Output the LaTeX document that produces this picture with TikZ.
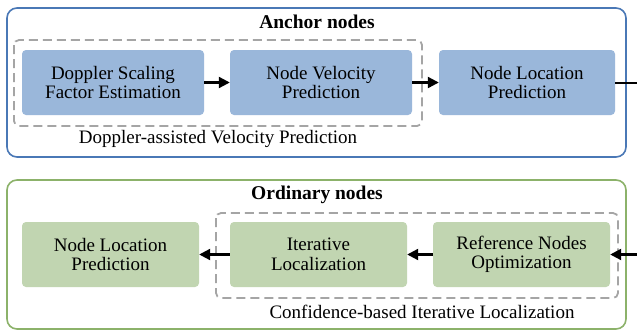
\documentclass[tikz,border=0pt]{standalone}
\usepackage{fontspec}
\setmainfont{Liberation Serif}
\usetikzlibrary{arrows.meta}
\definecolor{bluefill}{RGB}{154,183,218}
\definecolor{blueline}{RGB}{74,120,182}
\definecolor{greenfill}{RGB}{193,213,177}
\definecolor{greenline}{RGB}{140,178,106}
\definecolor{dashgray}{RGB}{165,165,165}
\tikzset{
  outerbox/.style={draw, line width=1.6pt, rounded corners=10pt, fill=white},
  groupbox/.style={draw=dashgray, line width=1.8pt, dash pattern=on 9pt off 5pt, rounded corners=5pt},
  procbox/.style={rounded corners=4pt, minimum width=177pt, minimum height=65pt, align=center, inner sep=0pt,
    font=\fontsize{19}{19.5}\selectfont},
  bluebox/.style={procbox, fill=bluefill},
  greenbox/.style={procbox, fill=greenfill},
  titletext/.style={font=\fontsize{19.5}{21}\selectfont\bfseries},
  labeltext/.style={font=\fontsize{19}{21}\selectfont},
  flow/.style={line width=2.2pt, -{Triangle[length=11pt,width=11pt]}},
}
\begin{document}
\begin{tikzpicture}[x=1pt,y=-1pt]
\useasboundingbox (0,0) rectangle (637,333);
\begin{scope}
\clip (0,0) rectangle (637,333);
% top panel
\draw[outerbox, draw=blueline] (7,8) rectangle (626,157);
\node[titletext] (ttop) at (317,22) {Anchor nodes};
\draw[groupbox] (14,40) rectangle (422,126);
\node[bluebox, minimum width=182pt] (b1) at (113,82.5) {Doppler Scaling\\Factor Estimation};
\node[bluebox, minimum width=182pt] (b2) at (321,82.5) {Node Velocity\\Prediction};
\node[bluebox, minimum width=176pt] (b3) at (527,82.5) {Node Location\\Prediction};
\node[labeltext] (ltop) at (218,139) {Doppler-assisted Velocity Prediction};
\draw[flow] (b1) -- (b2);
\draw[flow] (b2) -- (b3);
\coordinate (etop) at (640,83);
\draw[line width=2.2pt] (b3.east |- etop) -- (etop);
% bottom panel
\draw[outerbox, draw=greenline] (7,180) rectangle (626,329);
\node[titletext] (tbot) at (317,195) {Ordinary nodes};
\draw[groupbox] (216,213) rectangle (618,298);
\node[greenbox] (g1) at (110.5,254.5) {Node Location\\Prediction};
\node[greenbox] (g2) at (318.5,254.5) {Iterative\\Localization};
\node[greenbox] (g3) at (521.5,254.5) {Reference Nodes\\Optimization};
\node[labeltext] (lbot) at (422,312) {Confidence-based Iterative Localization};
\coordinate (ebot) at (640,254.5);
\draw[flow] (ebot) -- (g3);
\draw[flow] (g3) -- (g2);
\draw[flow] (g2) -- (g1);
\end{scope}
\end{tikzpicture}
\end{document}
